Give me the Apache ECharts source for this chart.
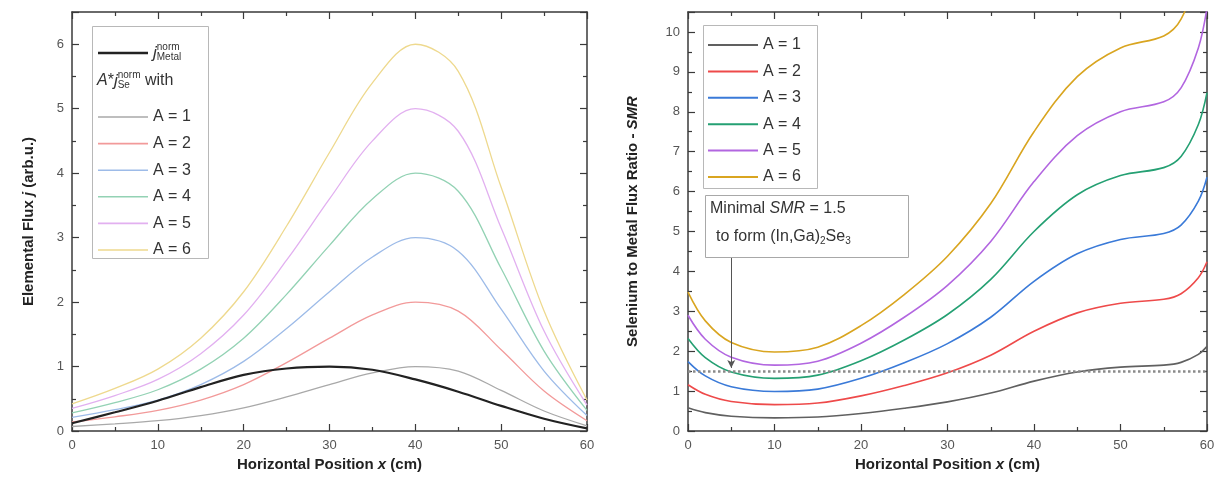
<!DOCTYPE html>
<html><head><meta charset="utf-8">
<script src="https://cdn.jsdelivr.net/npm/echarts@6/dist/echarts.min.js"></script>
<style>html,body{margin:0;padding:0;background:#fff}#c{width:1222px;height:494px}</style>
</head><body><div id="c"></div>
<script>
// ---- data: left panel (normalized fluxes) ----
const xFlux = [0, 5, 10, 15, 20, 25, 30, 35, 40, 45, 50, 55, 60];
const metalFlux = [0.12, 0.29, 0.47, 0.68, 0.87, 0.97, 1.00, 0.95, 0.80, 0.61, 0.39, 0.19, 0.04];
const seA1 = [0.07, 0.11, 0.16, 0.24, 0.36, 0.53, 0.72, 0.90, 1.00, 0.93, 0.63, 0.31, 0.08];
const seA2 = [0.14, 0.22, 0.32, 0.48, 0.72, 1.06, 1.44, 1.80, 2.00, 1.86, 1.26, 0.62, 0.16];
const seA3 = [0.21, 0.33, 0.48, 0.72, 1.08, 1.59, 2.16, 2.70, 3.00, 2.79, 1.89, 0.93, 0.24];
const seA4 = [0.28, 0.44, 0.64, 0.96, 1.44, 2.12, 2.88, 3.60, 4.00, 3.72, 2.52, 1.24, 0.32];
const seA5 = [0.35, 0.55, 0.80, 1.20, 1.80, 2.65, 3.60, 4.50, 5.00, 4.65, 3.15, 1.55, 0.40];
const seA6 = [0.42, 0.66, 0.96, 1.44, 2.16, 3.18, 4.32, 5.40, 6.00, 5.58, 3.78, 1.86, 0.48];
// ---- data: right panel (SMR) ----
const xSmr = [0, 2, 5, 10, 15, 20, 25, 30, 35, 40, 45, 50, 55, 57, 59, 60];
const smrA1 = [0.58, 0.46, 0.37, 0.33, 0.35, 0.44, 0.57, 0.73, 0.95, 1.25, 1.48, 1.60, 1.65, 1.72, 1.92, 2.12];
const smrA2 = [1.16, 0.92, 0.74, 0.66, 0.70, 0.88, 1.14, 1.46, 1.90, 2.50, 2.96, 3.20, 3.30, 3.44, 3.84, 4.24];
const smrA3 = [1.74, 1.38, 1.11, 0.99, 1.05, 1.32, 1.71, 2.19, 2.85, 3.75, 4.44, 4.80, 4.95, 5.16, 5.76, 6.36];
const smrA4 = [2.32, 1.84, 1.48, 1.32, 1.40, 1.76, 2.28, 2.92, 3.80, 5.00, 5.92, 6.40, 6.60, 6.88, 7.68, 8.48];
const smrA5 = [2.90, 2.30, 1.85, 1.65, 1.75, 2.20, 2.85, 3.65, 4.75, 6.25, 7.40, 8.00, 8.25, 8.60, 9.60, 10.60];
const smrA6 = [3.48, 2.76, 2.22, 1.98, 2.10, 2.64, 3.42, 4.38, 5.70, 7.50, 8.88, 9.60, 9.90, 10.32, 11.52, 12.72];
const aLabels = ['A = 1', 'A = 2', 'A = 3', 'A = 4', 'A = 5', 'A = 6'];
const smrThreshold = 1.5;
const arrowX = 5, arrowFrom = 4.36, arrowTo = 1.58;

// ---- styles ----
const leftColors = ['#a9a9a9', '#f29a9a', '#9dbbe8', '#93d2b4', '#e2b0f0', '#eed98e'];
const rightColors = ['#606060', '#ee4a4a', '#3a7ad8', '#25a073', '#b266e0', '#d9a520'];
const FONT = '"Liberation Sans", Arial, sans-serif';
const seSets = [seA1, seA2, seA3, seA4, seA5, seA6];
const smrSets = [smrA1, smrA2, smrA3, smrA4, smrA5, smrA6];
const zip = (xs, ys) => xs.map((x, i) => [x, ys[i]]);

const frame = {
  axisLine: { show: true, onZero: false, lineStyle: { color: '#3a3a3a', width: 1.5 } },
  axisTick: { show: true, inside: true, length: 7, lineStyle: { color: '#3a3a3a', width: 1.2 } },
  minorTick: { show: true, splitNumber: 2, length: 4, lineStyle: { color: '#3a3a3a', width: 1.2 } },
  splitLine: { show: false }, minorSplitLine: { show: false }
};
const lbl = { color: '#555', fontSize: 13, fontFamily: FONT, margin: 8 };
const nameStyle = { fontSize: 15, fontWeight: 'bold', color: '#222', fontFamily: FONT,
  rich: { i: { fontStyle: 'italic', fontWeight: 'bold', fontSize: 15, color: '#222', fontFamily: FONT } } };

function xAx(grid, pos, withName) {
  return Object.assign({}, frame, {
    type: 'value', gridIndex: grid, position: pos, min: 0, max: 60, interval: 10,
    axisLabel: Object.assign({ show: pos === 'bottom' }, lbl),
    name: withName ? 'Horizontal Position {i|x} (cm)' : '', nameLocation: 'middle', nameGap: 23,
    nameTextStyle: nameStyle
  });
}
function yAx(grid, pos, max, name, gap) {
  return Object.assign({}, frame, {
    type: 'value', gridIndex: grid, position: pos, min: 0, max: max, interval: 1,
    axisLabel: Object.assign({ show: pos === 'left', formatter: v => Number.isInteger(v) ? String(v) : '' }, lbl),
    name: name || '', nameLocation: 'middle', nameGap: gap || 0, nameTextStyle: nameStyle
  });
}

const series = [];
series.push({ name: 'metal', type: 'line', xAxisIndex: 0, yAxisIndex: 0, data: zip(xFlux, metalFlux),
  smooth: 0.35, symbol: 'none', lineStyle: { color: '#222', width: 2.2 }, itemStyle: { color: '#222' }, z: 5 });
seSets.forEach((d, i) => series.push({ name: 'se' + (i + 1), type: 'line', xAxisIndex: 0, yAxisIndex: 0,
  data: zip(xFlux, d), smooth: 0.35, symbol: 'none',
  lineStyle: { color: leftColors[i], width: 1.3 }, itemStyle: { color: leftColors[i] } }));
smrSets.forEach((d, i) => series.push({ name: 'smr' + (i + 1), type: 'line', xAxisIndex: 2, yAxisIndex: 2,
  data: zip(xSmr, d), smooth: 0.35, symbol: 'none', clip: true,
  lineStyle: { color: rightColors[i], width: 1.6 }, itemStyle: { color: rightColors[i] },
  markLine: i === 0 ? {
    silent: true, animation: false, label: { show: false },
    data: [
      [{ yAxis: smrThreshold, x: 688, symbol: 'none', lineStyle: { type: 'dotted', color: '#8a8a8a', width: 2.5 } },
       { yAxis: smrThreshold, x: 1207, symbol: 'none' }],
      [{ coord: [arrowX, arrowFrom], symbol: 'none', lineStyle: { type: 'solid', color: '#555', width: 1 } },
       { coord: [arrowX, arrowTo], symbol: 'arrow', symbolSize: [6, 8] }]
    ]
  } : undefined }));

const legText = { fontSize: 16, color: '#333', fontFamily: FONT, lineHeight: 16,
  rich: {
    j: { fontStyle: 'italic', fontSize: 17, color: '#333', fontFamily: FONT },
    sup: { fontSize: 10, color: '#333', width: 0, padding: [0, 0, 12, 0], fontFamily: FONT },
    sub: { fontSize: 10, color: '#333', padding: [9, 0, 0, 0], fontFamily: FONT }
  } };
const leftA = {}; aLabels.forEach((t, i) => leftA['se' + (i + 1)] = t);
const rightA = {}; aLabels.forEach((t, i) => rightA['smr' + (i + 1)] = t);

const option = {
  animation: false,
  backgroundColor: '#fff',
  textStyle: { fontFamily: FONT },
  grid: [
    { left: 72, top: 12, width: 515, height: 419 },
    { left: 688, top: 12, width: 519, height: 419 }
  ],
  xAxis: [xAx(0, 'bottom', true), xAx(0, 'top', false), xAx(1, 'bottom', true), xAx(1, 'top', false)],
  yAxis: [
    yAx(0, 'left', 6.5, 'Elemental Flux {i|j} (arb.u.)', 36), yAx(0, 'right', 6.5),
    yAx(1, 'left', 10.5, 'Selenium to Metal Flux Ratio - {i|SMR}', 48), yAx(1, 'right', 10.5)
  ],
  legend: [
    { data: ['metal'], orient: 'vertical', left: 93, top: 37, itemWidth: 50, itemHeight: 2.4, itemGap: 10,
      icon: 'rect', selectedMode: false, textStyle: legText,
      formatter: () => '{j|j}{sup|norm}{sub|Metal}' },
    { data: ['se1', 'se2', 'se3', 'se4', 'se5', 'se6'], orient: 'vertical', left: 93, top: 104,
      itemWidth: 50, itemHeight: 1.6, itemGap: 10.6, icon: 'rect', selectedMode: false, textStyle: legText,
      formatter: n => leftA[n] },
    { data: ['smr1', 'smr2', 'smr3', 'smr4', 'smr5', 'smr6'], orient: 'vertical', left: 703, top: 32,
      itemWidth: 50, itemHeight: 2, itemGap: 10.4, icon: 'rect', selectedMode: false, textStyle: legText,
      formatter: n => rightA[n] }
  ],
  graphic: { elements: [
    { type: 'rect', left: 92, top: 26, shape: { width: 116, height: 232 }, z: -1,
      style: { fill: '#fff', stroke: '#b8b8b8', lineWidth: 1 } },
    { type: 'text', left: 97, top: 70, z: 10,
      style: { text: '{a|A}*{j|j}{sub|Se}{sup|norm} with', fontSize: 16, fill: '#333', fontFamily: FONT,
        rich: {
          a: { fontStyle: 'italic', fontSize: 16, fill: '#333', fontFamily: FONT },
          j: { fontStyle: 'italic', fontSize: 17, fill: '#333', fontFamily: FONT },
          sub: { fontSize: 10, fill: '#333', width: 0, padding: [9, 0, 0, 0], fontFamily: FONT },
          sup: { fontSize: 10, fill: '#333', padding: [0, 0, 12, 0], fontFamily: FONT }
        } } },
    { type: 'rect', left: 703, top: 25, shape: { width: 114, height: 163 }, z: -1,
      style: { fill: '#fff', stroke: '#b8b8b8', lineWidth: 1 } },
    { type: 'rect', left: 705, top: 195, shape: { width: 203, height: 62 }, z: 10,
      style: { fill: '#fff', stroke: '#a8a8a8', lineWidth: 1 } },
    { type: 'text', left: 710, top: 201, z: 11,
      style: { text: 'Minimal {i|SMR} = 1.5', fontSize: 16, fill: '#333', fontFamily: FONT,
        rich: { i: { fontStyle: 'italic', fontSize: 16, fill: '#333', fontFamily: FONT } } } },
    { type: 'text', left: 716, top: 229, z: 11,
      style: { text: 'to form (In,Ga){s|2}Se{s|3}', fontSize: 16, fill: '#333', fontFamily: FONT,
        rich: { s: { fontSize: 10, fill: '#333', padding: [9, 0, 0, 0], fontFamily: FONT } } } }
  ] },
  series: series
};
const chart = echarts.init(document.getElementById('c'), null, { renderer: 'canvas' });
chart.setOption(option);
</script>
</body></html>
